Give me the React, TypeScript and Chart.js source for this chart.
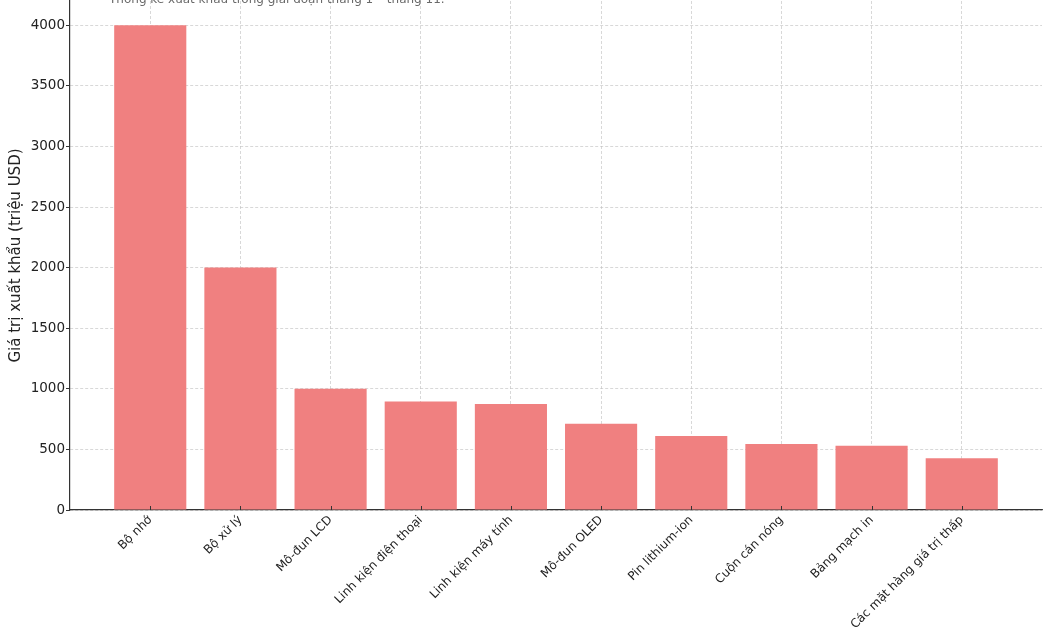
import React, { useEffect, useRef } from "react";
import { Chart, registerables } from "chart.js";

Chart.register(...registerables);

const categories: string[] = [
  "Bộ nhớ",
  "Bộ xử lý",
  "Mô-đun LCD",
  "Linh kiện điện thoại",
  "Linh kiện máy tính",
  "Mô-đun OLED",
  "Pin lithium-ion",
  "Cuộn cán nóng",
  "Bảng mạch in",
  "Các mặt hàng giá trị thấp",
];
const exportValues: number[] = [4000, 2000, 1000, 895, 875, 712, 610, 545, 530, 427];
const yTicks: number[] = [0, 500, 1000, 1500, 2000, 2500, 3000, 3500, 4000];
const yMax = 4200;
const titleText = "Thống kê xuất khẩu trong giai đoạn tháng 1 – tháng 11.";
const yAxisTitle = "Giá trị xuất khẩu (triệu USD)";

const FONT = "'DejaVu Sans', 'Noto Sans', sans-serif";

export default function App() {
  const ref = useRef<HTMLCanvasElement | null>(null);

  useEffect(() => {
    document.body.style.margin = "0";
    const canvas = ref.current;
    if (!canvas) return;

    const extrasPlugin = {
      id: "extras",
      afterDraw(chart: any) {
        const { ctx, chartArea } = chart;
        const xScale = chart.scales.x;
        ctx.save();
        // inward x tick marks
        ctx.strokeStyle = "#333";
        ctx.lineWidth = 1;
        categories.forEach((_, i) => {
          const px = Math.round(xScale.getPixelForValue(i)) + 0.5;
          ctx.beginPath();
          ctx.moveTo(px, chartArea.bottom);
          ctx.lineTo(px, chartArea.bottom - 4);
          ctx.stroke();
        });
        // top title (partially clipped, as in the reference)
        ctx.font = `12px ${FONT}`;
        ctx.fillStyle = "#6a6a6a";
        ctx.textAlign = "left";
        ctx.textBaseline = "alphabetic";
        ctx.fillText(titleText, chartArea.left + 39, chartArea.top + 1.5);
        ctx.restore();
      },
    };

    const gridColor = "rgba(190,190,190,0.75)";

    const chart = new Chart(canvas, {
      type: "bar",
      data: {
        datasets: [
          {
            data: exportValues.map((v, i) => ({ x: i, y: v })),
            backgroundColor: "#F08080",
            borderWidth: 0,
            barPercentage: 1,
            categoryPercentage: 0.8,
          },
        ],
      },
      options: {
        responsive: false,
        animation: false,
        devicePixelRatio: 1,
        layout: { padding: { top: 1, right: 8, left: 0, bottom: 0 } },
        plugins: {
          legend: { display: false },
          tooltip: { enabled: false },
          title: { display: false },
        },
        scales: {
          x: {
            type: "linear",
            offset: false,
            min: -0.89,
            max: categories.length - 1 + 0.89,
            z: 1,
            afterBuildTicks: (axis: any) => {
              axis.ticks = categories.map((_, i) => ({ value: i }));
            },
            afterFit: (scale: any) => {
              scale.height = 120;
              scale.paddingLeft = 0;
              scale.paddingRight = 0;
            },
            ticks: {
              autoSkip: false,
              minRotation: 45,
              maxRotation: 45,
              padding: 3,
              color: "#222",
              font: { family: FONT, size: 12 },
              callback: (value: any) => categories[Math.round(Number(value))] ?? "",
            },
            grid: {
              offset: false,
              color: gridColor,
              lineWidth: 0.8,
              drawTicks: false,
            },
            border: { display: true, color: "#333", width: 1.2, dash: [3, 2] },
          },
          y: {
            type: "linear",
            min: 0,
            max: yMax,
            z: 1,
            afterBuildTicks: (axis: any) => {
              axis.ticks = yTicks.map((v) => ({ value: v }));
            },
            afterFit: (scale: any) => {
              scale.width = 70;
              scale.paddingTop = 0;
              scale.paddingBottom = 0;
            },
            ticks: {
              padding: 1,
              color: "#222",
              font: { family: FONT, size: 13.5 },
              callback: (value: any) => String(value),
            },
            grid: {
              color: gridColor,
              lineWidth: 0.8,
              drawTicks: true,
              tickLength: 4,
              tickColor: "#333",
              tickWidth: 1,
            },
            border: { display: true, color: "#333", width: 1.2, dash: [3, 2] },
            title: {
              display: true,
              text: yAxisTitle,
              color: "#222",
              font: { family: FONT, size: 15 },
              padding: { top: 7, bottom: 0 },
            },
          },
        },
      },
      plugins: [extrasPlugin],
    });

    return () => chart.destroy();
  }, []);

  return (
    <div style={{ width: 1050, height: 630, position: "relative" }}>
      <canvas ref={ref} width={1050} height={630} />
    </div>
  );
}
